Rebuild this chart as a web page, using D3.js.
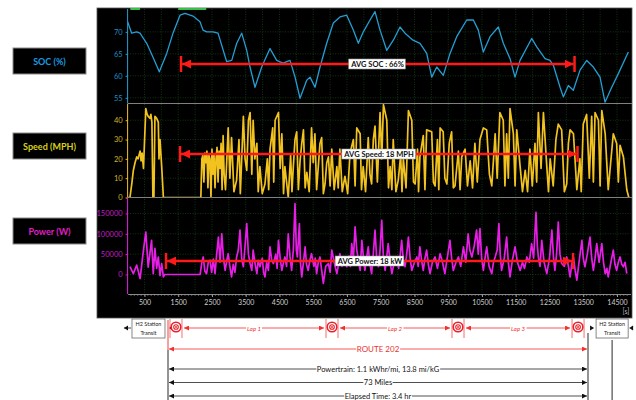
<!DOCTYPE html>
<html>
<head>
<meta charset="utf-8">
<script src="https://cdn.jsdelivr.net/npm/d3@7"></script>
<style>
  body { margin: 0; background: #fff; }
  text { font-family: Lato, "Open Sans", sans-serif; }
</style>
</head>
<body>
<div id="vis"></div>
<script>
// Data: [time (s), value]
const SOC_DATA = [[0,72.3],[121,69.7],[270,70.0],[367,69.7],[566,67.4],[753,64.2],[939,60.9],[1159,65.1],[1345,69.7],
  [1553,73.8],[1701,74.2],[1938,73.6],[2145,72.3],[2234,70.4],[2344,70.0],[2530,70.0],[2679,69.7],[2936,63.2],
  [3085,63.5],[3233,67.4],[3381,69.7],[3529,65.8],[3627,62.0],[3775,57.4],[3973,62.0],[4219,66.2],[4418,63.5],
  [4605,62.9],[4812,63.5],[4961,59.7],[5109,54.9],[5307,59.0],[5405,59.7],[5553,57.4],[5701,62.0],[5899,67.4],
  [6095,72.0],[6294,73.4],[6492,73.8],[6688,70.4],[6836,67.4],[6984,70.0],[7183,72.7],[7330,74.6],[7479,70.4],
  [7677,65.8],[7873,68.1],[8071,71.1],[8219,69.7],[8456,68.1],[8663,67.4],[8862,65.1],[9011,59.7],[9159,62.0],
  [9354,60.1],[9553,65.1],[9751,68.9],[10048,72.7],[10243,72.7],[10391,70.4],[10539,65.4],[10738,68.9],
  [10984,71.1],[11132,67.4],[11331,63.9],[11479,59.7],[11627,63.5],[11973,68.5],[12122,66.6],[12368,63.9],
  [12516,63.5],[12614,62.4],[12813,57.4],[12910,55.2],[13058,57.8],[13206,56.7],[13405,61.3],[13603,63.5],
  [13799,62.0],[13997,59.7],[14145,54.0],[14344,57.4],[14540,60.5],[14836,65.4]];

const SPEED_DATA = [[0,0],[70,0],[130,8],[170,14],[220,18],[270,21],[310,20],[370,24],[400,19],[430,23],[470,15],
  [540,46],[580,43],[610,42],[660,41],[690,43],[720,39],[750,0],[780,0],[810,42],[860,41],[910,39],[930,20],
  [960,30],[1010,16],[1060,0],[2170,0],[2200,20],[2230,22],[2260,8],[2290,23],[2320,18],[2350,24],[2380,5],
  [2410,22],[2440,20],[2470,0],[2500,25],[2530,12],[2560,22],[2590,5],[2620,20],[2650,26],[2680,8],[2710,24],
  [2740,15],[2770,28],[2800,4],[2830,32],[2860,12],[2900,4],[2980,36],[3030,10],[3080,31],[3150,3],[3230,9],
  [3300,30],[3340,2],[3430,42],[3480,20],[3530,14],[3580,40],[3630,44],[3680,12],[3720,40],[3770,20],[3830,28],
  [3870,3],[3920,16],[3990,2],[4070,7],[4140,20],[4180,4],[4220,25],[4300,36],[4330,8],[4370,40],[4470,44],
  [4520,15],[4570,33],[4620,2],[4660,16],[4760,0],[4830,22],[4870,3],[4910,16],[4960,30],[5010,34],[5060,4],
  [5110,19],[5160,28],[5210,35],[5260,5],[5310,13],[5380,3],[5450,36],[5500,18],[5550,33],[5600,4],[5650,16],
  [5700,28],[5750,31],[5800,2],[5850,7],[5900,18],[5950,21],[6000,6],[6050,25],[6120,4],[6200,16],[6240,5],
  [6290,25],[6360,3],[6440,11],[6520,2],[6590,23],[6690,30],[6740,6],[6790,36],[6890,33],[6930,4],[6980,16],
  [7050,3],[7130,31],[7180,12],[7230,7],[7280,30],[7330,37],[7400,8],[7480,44],[7530,20],[7580,48],[7680,40],
  [7730,5],[7780,16],[7830,4],[7870,30],[7950,3],[8020,9],[8090,22],[8130,3],[8170,20],[8250,5],[8320,45],
  [8420,40],[8470,8],[8520,7],[8590,25],[8620,3],[8660,21],[8760,32],[8810,4],[8860,35],[9010,34],[9060,8],
  [9110,6],[9180,30],[9220,4],[9260,36],[9350,34],[9400,10],[9460,7],[9530,28],[9600,34],[9650,5],[9700,6],
  [9800,24],[9850,4],[9900,21],[10000,25],[10070,6],[10150,19],[10220,5],[10290,28],[10360,8],[10440,30],
  [10540,36],[10640,35],[10720,12],[10790,6],[10890,33],[10950,10],[11030,44],[11130,40],[11180,6],[11230,33],
  [11280,10],[11330,46],[11430,33],[11480,6],[11530,35],[11630,16],[11700,3],[11780,14],[11850,3],[11920,25],
  [11990,6],[12070,28],[12120,8],[12170,44],[12250,15],[12320,44],[12420,16],[12470,3],[12520,20],[12610,6],
  [12690,30],[12760,38],[12860,35],[12940,3],[13010,7],[13060,28],[13110,35],[13210,33],[13310,4],[13400,20],
  [13440,3],[13500,38],[13600,43],[13680,10],[13750,42],[13800,8],[13850,44],[13950,40],[14000,6],[14050,45],
  [14150,33],[14240,4],[14390,33],[14490,28],[14540,8],[14590,27],[14690,21],[14790,4],[14850,0]];

const POWER_DATA = [[70,19000],[170,2000],[270,23000],[370,-10000],[470,60000],[540,104000],[610,18000],
  [710,84000],[760,2000],[810,64000],[860,15000],[910,43000],[960,-3000],[1010,27000],[1060,-6000],[1100,0],
  [2150,0],[2200,30000],[2240,43000],[2290,8000],[2340,2000],[2390,30000],[2440,35000],[2490,5000],[2540,38000],
  [2590,2000],[2640,50000],[2690,92000],[2740,30000],[2790,100000],[2840,40000],[2890,10000],[2940,35000],
  [2980,51000],[3030,20000],[3080,-6000],[3130,25000],[3180,5000],[3230,43000],[3280,60000],[3330,109000],
  [3380,40000],[3430,19000],[3480,70000],[3530,125000],[3580,50000],[3630,27000],[3680,10000],[3720,60000],
  [3770,30000],[3830,2000],[3870,35000],[3920,19000],[3990,40000],[4030,5000],[4070,-6000],[4120,30000],
  [4170,10000],[4220,68000],[4270,35000],[4320,27000],[4390,50000],[4430,15000],[4470,84000],[4520,40000],
  [4570,10000],[4620,30000],[4660,43000],[4710,20000],[4760,100000],[4810,45000],[4860,10000],[4910,60000],
  [4960,174000],[5000,60000],[5030,43000],[5090,125000],[5120,30000],[5160,-6000],[5210,30000],[5260,68000],
  [5300,25000],[5350,10000],[5400,35000],[5450,51000],[5520,20000],[5560,40000],[5600,2000],[5650,30000],
  [5700,43000],[5750,10000],[5800,-22000],[5870,20000],[5950,27000],[6000,5000],[6050,60000],[6120,30000],
  [6200,2000],[6250,25000],[6290,51000],[6350,20000],[6420,40000],[6490,19000],[6560,45000],[6600,20000],
  [6640,76000],[6690,40000],[6740,117000],[6790,60000],[6840,35000],[6890,10000],[6940,84000],[6990,40000],
  [7030,10000],[7080,40000],[7130,68000],[7180,25000],[7230,2000],[7280,50000],[7330,109000],[7380,40000],
  [7430,19000],[7480,60000],[7530,133000],[7580,40000],[7630,10000],[7680,45000],[7720,76000],[7780,30000],
  [7830,2000],[7900,30000],[7970,43000],[8030,15000],[8080,50000],[8120,84000],[8170,35000],[8220,19000],
  [8270,50000],[8320,92000],[8370,40000],[8420,10000],[8500,30000],[8570,43000],[8610,20000],[8660,68000],
  [8710,35000],[8760,10000],[8810,40000],[8860,60000],[8910,25000],[8960,2000],[9030,30000],[9110,43000],
  [9180,15000],[9260,51000],[9330,30000],[9400,2000],[9470,40000],[9550,84000],[9600,40000],[9650,10000],
  [9730,30000],[9800,43000],[9870,20000],[9950,68000],[10020,30000],[10090,100000],[10140,60000],[10200,43000],
  [10270,70000],[10340,109000],[10390,50000],[10440,113000],[10490,40000],[10540,10000],[10590,40000],
  [10640,68000],[10710,20000],[10790,2000],[10840,30000],[10890,43000],[10950,60000],[11000,125000],
  [11040,50000],[11080,10000],[11160,40000],[11230,92000],[11280,30000],[11330,-6000],[11400,35000],
  [11480,68000],[11550,30000],[11630,10000],[11700,30000],[11760,15000],[11830,43000],[11900,30000],
  [11970,76000],[12030,40000],[12100,153000],[12140,70000],[12170,43000],[12220,20000],[12270,84000],
  [12340,30000],[12420,2000],[12500,40000],[12570,109000],[12620,40000],[12660,10000],[12710,50000],
  [12760,129000],[12810,50000],[12860,27000],[12940,20000],[13010,43000],[13060,20000],[13110,-6000],
  [13160,25000],[13210,43000],[13260,10000],[13310,-14000],[13390,40000],[13460,84000],[13500,40000],
  [13550,19000],[13620,50000],[13700,92000],[13750,40000],[13800,10000],[13850,40000],[13900,76000],
  [13970,30000],[14050,76000],[14100,30000],[14150,2000],[14200,15000],[14240,-6000],[14320,30000],
  [14390,60000],[14440,25000],[14490,10000],[14540,30000],[14590,43000],[14640,25000],[14690,19000],
  [14740,30000],[14790,2000]];

// Tick values
const SOC_TICKS = [55, 60, 65, 70];
const SPEED_TICKS = [0, 10, 20, 30, 40];
const POWER_TICKS = [0, 50000, 100000, 150000];
const TIME_TICKS = [500, 1500, 2500, 3500, 4500, 5500, 6500, 7500, 8500, 9500, 10500, 11500, 12500, 13500, 14500];

// Annotations (times in s)
const PANEL_NAMES = ["SOC (%)", "Speed (MPH)", "Power (W)"];
const AVG_LABELS = ["AVG SOC : 66%", "AVG Speed: 18 MPH", "AVG Power: 18 kW"];
const AVG_SPANS = [[1582, 13242], [1553, 13330], [1138, 13197]];
const AVG_LABEL_T = [7405, 7450, 7180];
const LAP_MARKS = [1434, 6056, 9790, 13346];
const LAP_NAMES = ["Lap 1", "Lap 2", "Lap 3"];
const ROUTE_SPAN = [1197, 13641];
const SUMMARY = ["ROUTE 202", "Powertrain: 1.1 kWhr/mi, 13.8 mi/kG", "73 Miles", "Elapsed Time: 3.4 hr"];
const TRANSIT_SPANS = [[130, 1108], [13880, 14830]];
const TOP_MARKS = [[80, 370], [1500, 2330]];

// Layout
const FRAME_WIDTH = 636;
const FRAME_HEIGHT = 400;
const PANEL = { left: 97, right: 632, top: 8, bottom: 318 };
const ROWS = [[9, 103.5], [104, 197.5], [198, 294]];
const COLORS = ["#239fd4", "#f2c21f", "#e61ee6"];
const LABEL_COLORS = ["#1f8fc4", "#d2b52a", "#c21ec2"];
const NAME_COLORS = ["#1a9be0", "#d9cf1e", "#e01ec8"];
const AVG_Y = [64, 154, 261];

const svg = d3.select("#vis").append("svg")
    .attr("width", FRAME_WIDTH)
    .attr("height", FRAME_HEIGHT);

const defs = svg.append("defs");
function marker(id, color, size) {
    defs.append("marker")
        .attr("id", id)
        .attr("viewBox", "0 0 10 10")
        .attr("refX", 10).attr("refY", 5)
        .attr("markerWidth", size).attr("markerHeight", size)
        .attr("markerUnits", "userSpaceOnUse")
        .attr("orient", "auto-start-reverse")
        .append("path").attr("d", "M0,0L10,5L0,10z").attr("fill", color);
}
marker("bigRed", "#ff1a1a", 9);
marker("smallRed", "#f23030", 5);
marker("smallBlack", "#111", 5);

// Scales
const X_SCALE = d3.scaleLinear().domain([0, 14900]).range([127.6, 630.5]);
const Y_SCALES = [
    d3.scaleLinear().domain([53.7, 75.2]).range([ROWS[0][1], ROWS[0][0]]),
    d3.scaleLinear().domain([0, 48.4]).range([ROWS[1][1], ROWS[1][0]]),
    d3.scaleLinear().domain([-48000, 188000]).range([ROWS[2][1], ROWS[2][0]])
];
const TICKS = [SOC_TICKS, SPEED_TICKS, POWER_TICKS];
const SERIES = [SOC_DATA, SPEED_DATA, POWER_DATA];

// black panel
svg.append("rect")
    .attr("x", PANEL.left).attr("y", PANEL.top)
    .attr("width", PANEL.right - PANEL.left).attr("height", PANEL.bottom - PANEL.top)
    .attr("fill", "#000").attr("stroke", "#555").attr("stroke-width", 0.8);

defs.append("clipPath").attr("id", "panelClip").append("rect")
    .attr("x", PANEL.left + 0.5).attr("y", PANEL.top)
    .attr("width", PANEL.right - PANEL.left).attr("height", PANEL.bottom - PANEL.top);

// vertical grid
const grid = svg.append("g").attr("stroke", "#1d4a1d").attr("stroke-width", 0.7).attr("stroke-dasharray", "1,1.5");
grid.selectAll("line.v")
    .data(d3.range(500, 14900, 500))
    .enter().append("line")
    .attr("x1", d => X_SCALE(d)).attr("x2", d => X_SCALE(d))
    .attr("y1", ROWS[0][0]).attr("y2", ROWS[2][1]);

// top green marks
svg.selectAll("line.top")
    .data(TOP_MARKS)
    .enter().append("line")
    .attr("x1", d => X_SCALE(d[0])).attr("x2", d => X_SCALE(d[1]))
    .attr("y1", 9).attr("y2", 9)
    .attr("stroke", "#35c24a").attr("stroke-width", 2);

ROWS.forEach((row, i) => {
    const y = Y_SCALES[i];

    // horizontal grid
    grid.selectAll("line.h" + i)
        .data(TICKS[i])
        .enter().append("line")
        .attr("x1", X_SCALE.range()[0]).attr("x2", X_SCALE.range()[1])
        .attr("y1", d => y(d)).attr("y2", d => y(d));

    // y axis (outer group clips to the black panel)
    const axis = svg.append("g")
        .attr("clip-path", "url(#panelClip)")
        .append("g")
        .attr("transform", "translate(" + X_SCALE.range()[0] + ",0)")
        .call(d3.axisLeft(y).tickValues(TICKS[i]).tickFormat(d3.format("d"))
            .tickSize(2).tickPadding(3).tickSizeOuter(0));
    axis.select(".domain").attr("stroke", COLORS[i]).attr("stroke-width", 1)
        .attr("d", "M0," + row[0] + "V" + row[1]);
    axis.selectAll(".tick line").attr("stroke", COLORS[i]);
    axis.selectAll(".tick text")
        .attr("fill", LABEL_COLORS[i])
        .attr("font-size", "7.5px")
        .attr("font-family", "Lato, sans-serif");

    // series line
    defs.append("clipPath").attr("id", "row" + i).append("rect")
        .attr("x", X_SCALE.range()[0]).attr("y", row[0])
        .attr("width", X_SCALE.range()[1] - X_SCALE.range()[0]).attr("height", row[1] - row[0]);
    svg.append("path")
        .datum(SERIES[i])
        .attr("clip-path", "url(#row" + i + ")")
        .attr("fill", "none")
        .attr("stroke", COLORS[i])
        .attr("stroke-width", i === 0 ? 1.3 : 1.7)
        .attr("stroke-linejoin", "round")
        .attr("d", d3.line().x(d => X_SCALE(d[0])).y(d => y(d[1])));

    // left name box
    const boxY = [48, 133, 218][i];
    svg.append("rect")
        .attr("x", 13).attr("y", boxY).attr("width", 73).attr("height", 26)
        .attr("fill", "#000").attr("stroke", "#8a8a8a").attr("stroke-width", 1);
    svg.append("text")
        .attr("x", 49.5).attr("y", boxY + 16.5)
        .attr("text-anchor", "middle")
        .attr("font-size", "9px").attr("font-weight", "bold")
        .attr("fill", NAME_COLORS[i])
        .text(PANEL_NAMES[i]);
});

// panel separators
svg.selectAll("line.sep")
    .data([103.5, 197.5])
    .enter().append("line")
    .attr("x1", X_SCALE.range()[0]).attr("x2", PANEL.right)
    .attr("y1", d => d).attr("y2", d => d)
    .attr("stroke", "#808080").attr("stroke-width", 1.2);

// x axis
const xAxis = svg.append("g")
    .attr("transform", "translate(0," + ROWS[2][1] + ")")
    .call(d3.axisBottom(X_SCALE).tickValues(TIME_TICKS).tickFormat(d3.format("d"))
        .tickSize(3).tickPadding(3).tickSizeOuter(0));
xAxis.select(".domain").attr("stroke", "#8a8a8a");
xAxis.selectAll(".tick line").attr("stroke", "#9a9a9a");
xAxis.selectAll(".tick text").attr("fill", "#cfcfcf").attr("font-size", "7px").attr("font-family", "Lato, sans-serif");
svg.append("g")
    .attr("transform", "translate(0," + ROWS[2][1] + ")")
    .selectAll("line")
    .data(d3.range(100, 14900, 100))
    .enter().append("line")
    .attr("x1", d => X_SCALE(d)).attr("x2", d => X_SCALE(d))
    .attr("y1", 0).attr("y2", 2)
    .attr("stroke", "#8a8a8a").attr("stroke-width", 0.6);
svg.append("text")
    .attr("x", 626).attr("y", 314)
    .attr("text-anchor", "middle")
    .attr("font-size", "7px").attr("fill", "#bbb")
    .text("[s]");

// boxed label helper
function boxedText(x, y, str, opts) {
    const t = svg.append("text")
        .attr("x", x).attr("y", y)
        .attr("text-anchor", "middle")
        .attr("dominant-baseline", "central")
        .attr("font-size", opts.size)
        .attr("font-style", opts.italic ? "italic" : null)
        .attr("font-weight", opts.bold ? "bold" : null)
        .attr("fill", opts.color)
        .text(str);
    const b = t.node().getBBox();
    svg.insert("rect", () => t.node())
        .attr("x", b.x - opts.pad).attr("y", b.y - 0.5)
        .attr("width", b.width + 2 * opts.pad).attr("height", b.height + 1)
        .attr("fill", "#fff")
        .attr("stroke", opts.stroke || "none").attr("stroke-width", 0.6);
}

// average arrows
AVG_SPANS.forEach((span, i) => {
    const x0 = X_SCALE(span[0]), x1 = X_SCALE(span[1]), yy = AVG_Y[i];
    svg.append("line")
        .attr("x1", x0 + 1).attr("x2", x1 - 1)
        .attr("y1", yy).attr("y2", yy)
        .attr("stroke", "#ff1a1a").attr("stroke-width", 2.5)
        .attr("marker-start", "url(#bigRed)").attr("marker-end", "url(#bigRed)");
    [x0, x1].forEach(x => {
        svg.append("line")
            .attr("x1", x).attr("x2", x)
            .attr("y1", yy - 8).attr("y2", yy + 8)
            .attr("stroke", "#ff1a1a").attr("stroke-width", 2.5);
    });
    boxedText(X_SCALE(AVG_LABEL_T[i]), yy, AVG_LABELS[i], { size: "7.5px", color: "#111", pad: 1.5, stroke: "#999", bold: true });
});

// bottom annotations
const Y_LAP = 328;
function arrow(x0, x1, y, color, mk, w) {
    svg.append("line")
        .attr("x1", x0).attr("x2", x1).attr("y1", y).attr("y2", y)
        .attr("stroke", color).attr("stroke-width", w)
        .attr("marker-start", "url(#" + mk + ")").attr("marker-end", "url(#" + mk + ")");
}

// H2 station transit boxes
TRANSIT_SPANS.forEach(span => {
    const x0 = X_SCALE(span[0]), x1 = X_SCALE(span[1]);
    svg.append("rect")
        .attr("x", x0).attr("y", 319).attr("width", x1 - x0).attr("height", 19)
        .attr("fill", "#fff").attr("stroke", "#555").attr("stroke-width", 0.7);
    svg.append("text")
        .attr("x", (x0 + x1) / 2).attr("y", 326)
        .attr("text-anchor", "middle").attr("font-size", "5.5px").attr("fill", "#222")
        .text("H2 Station");
    svg.append("text")
        .attr("x", (x0 + x1) / 2).attr("y", 334.5)
        .attr("text-anchor", "middle").attr("font-size", "5.5px").attr("fill", "#222")
        .text("Transit");
});

// small black arrowheads around the transit boxes
function head(x, dir, y) {
    svg.append("path")
        .attr("d", "M" + x + "," + y + "l" + (-4 * dir) + ",-2.5v5z")
        .attr("fill", "#111");
}
svg.append("line").attr("x1", X_SCALE(TRANSIT_SPANS[0][0]) - 1).attr("x2", X_SCALE(TRANSIT_SPANS[0][0]) - 8)
    .attr("y1", Y_LAP).attr("y2", Y_LAP).attr("stroke", "#111").attr("stroke-width", 0.8);
head(X_SCALE(TRANSIT_SPANS[0][0]) - 8, -1, Y_LAP);
head(X_SCALE(ROUTE_SPAN[0]) + 1, -1, Y_LAP);
head(X_SCALE(TRANSIT_SPANS[1][0]) - 2, 1, Y_LAP);
head(X_SCALE(TRANSIT_SPANS[1][1]) + 1, -1, Y_LAP);

// lap arrows between markers
LAP_NAMES.forEach((name, i) => {
    const x0 = X_SCALE(LAP_MARKS[i]) + 7, x1 = X_SCALE(LAP_MARKS[i + 1]) - 7;
    arrow(x0 + 1, x1 - 1, Y_LAP, "#f23030", "smallRed", 0.8);
    boxedText((x0 + x1) / 2, Y_LAP, name, { size: "6px", color: "#f23030", pad: 1, italic: true });
});

// lap markers
LAP_MARKS.forEach(t => {
    const cx = X_SCALE(t);
    [-6, 6].forEach(dx => {
        svg.append("line")
            .attr("x1", cx + dx).attr("x2", cx + dx).attr("y1", 319).attr("y2", 338)
            .attr("stroke", "#f23030").attr("stroke-width", 0.7);
    });
    svg.append("circle").attr("cx", cx).attr("cy", Y_LAP - 1).attr("r", 4.8)
        .attr("fill", "#fff").attr("stroke", "#e8202a").attr("stroke-width", 1.6);
    svg.append("circle").attr("cx", cx).attr("cy", Y_LAP - 1).attr("r", 2.3)
        .attr("fill", "none").attr("stroke", "#e8202a").attr("stroke-width", 1.1);
    svg.append("circle").attr("cx", cx).attr("cy", Y_LAP - 1).attr("r", 0.9).attr("fill", "#e8202a");
});

// route verticals
const xr0 = X_SCALE(ROUTE_SPAN[0]), xr1 = X_SCALE(ROUTE_SPAN[1]);
svg.append("line").attr("x1", xr0).attr("x2", xr0).attr("y1", 320).attr("y2", 350)
    .attr("stroke", "#e83030").attr("stroke-width", 0.9);
svg.append("line").attr("x1", xr0).attr("x2", xr0).attr("y1", 350).attr("y2", 400)
    .attr("stroke", "#111").attr("stroke-width", 0.9);
svg.append("line").attr("x1", xr1).attr("x2", xr1).attr("y1", 333).attr("y2", 400)
    .attr("stroke", "#111").attr("stroke-width", 0.9);
const xt = (X_SCALE(TRANSIT_SPANS[1][0]) + X_SCALE(TRANSIT_SPANS[1][1])) / 2;
svg.append("line").attr("x1", xt).attr("x2", xt).attr("y1", 340).attr("y2", 400)
    .attr("stroke", "#111").attr("stroke-width", 0.9);

// route + summary arrows
const SUMMARY_Y = [349, 369, 382.5, 396];
SUMMARY.forEach((str, i) => {
    const red = i === 0;
    arrow(xr0 + 1, xr1 - 1, SUMMARY_Y[i], red ? "#f23030" : "#222", red ? "smallRed" : "smallBlack", 0.8);
    boxedText((xr0 + xr1) / 2, SUMMARY_Y[i], str, { size: red ? "8px" : "7.5px", color: red ? "#e83030" : "#111", pad: 0.5 });
});
</script>
</body>
</html>
